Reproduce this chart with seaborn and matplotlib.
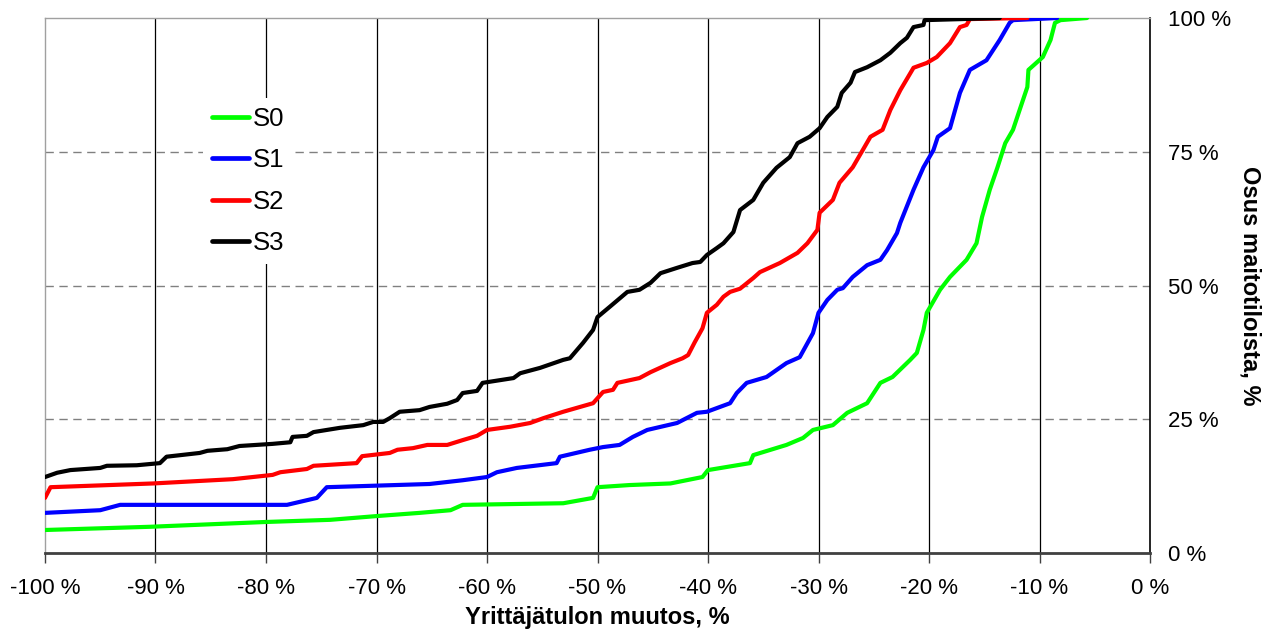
import matplotlib
matplotlib.use("Agg")
import matplotlib.pyplot as plt
import seaborn as sns
import pandas as pd
from matplotlib.ticker import FuncFormatter

# Cumulative share of dairy farms (%) versus change in entrepreneurial income (%)
s0_x = [-100, -90.5, -80, -74.2, -70, -66.1, -63.3, -62.2, -53.1, -50.4, -50.0, -47.1,
        -43.4, -40.5, -40.0, -36.2, -35.9, -32.9, -31.4, -30.5, -28.7, -27.4, -25.6,
        -24.4, -23.3, -21.7, -21.1, -20.5, -20.2, -19.0, -18.1, -16.6, -15.7, -15.2,
        -14.5, -13.8, -13.1, -12.4, -11.8, -11.1, -11.0, -9.7, -9.0, -8.6, -8.1, -5.7]
s0_y = [4.3, 4.9, 5.8, 6.2, 6.9, 7.5, 8.0, 9.0, 9.3, 10.3, 12.3, 12.7,
        13.0, 14.2, 15.5, 16.8, 18.3, 20.2, 21.5, 23.0, 23.9, 26.2, 28.0,
        31.8, 32.9, 36.1, 37.4, 41.7, 44.9, 49.2, 51.6, 54.8, 57.9, 62.8,
        67.9, 72.1, 76.6, 79.1, 82.8, 87.1, 90.3, 92.7, 95.9, 99.1, 99.6, 100]

s1_x = [-100, -95.0, -93.2, -78.1, -75.4, -74.5, -65.2, -62.2, -60.0, -59.1, -57.3,
        -53.7, -53.4, -50.7, -49.5, -48.0, -46.8, -45.5, -42.8, -41.0, -40.1, -38.0,
        -37.4, -36.5, -34.7, -32.9, -31.7, -30.5, -30.0, -29.2, -28.3, -27.8, -26.9,
        -25.6, -24.4, -23.8, -22.9, -22.6, -21.4, -20.5, -19.6, -19.2, -18.1, -17.2,
        -16.3, -14.8, -13.6, -12.7, -12.4, -8.4]
s1_y = [7.5, 8.0, 9.0, 9.0, 10.3, 12.3, 12.9, 13.6, 14.2, 15.1, 15.9,
        16.8, 18.0, 19.3, 19.8, 20.2, 21.7, 23.0, 24.3, 26.2, 26.4, 28.0,
        29.9, 31.8, 32.9, 35.5, 36.6, 41.1, 44.9, 47.3, 49.2, 49.5, 51.6,
        53.8, 54.8, 56.6, 59.8, 61.7, 67.9, 72.1, 75.3, 77.8, 79.4, 86.0,
        90.3, 92.1, 95.9, 99.1, 99.6, 100]

s2_x = [-100, -99.5, -90.2, -83.0, -79.4, -78.7, -76.3, -75.7, -71.8, -71.3, -68.8,
        -68.1, -66.7, -65.4, -63.6, -62.2, -60.9, -60.0, -57.9, -56.1, -54.9, -53.1,
        -50.4, -49.5, -48.6, -48.2, -46.2, -45.2, -43.4, -42.3, -41.8, -41.2, -40.5,
        -40.1, -39.2, -38.6, -38.0, -37.1, -35.9, -35.3, -33.5, -31.9, -31.0, -30.1,
        -29.9, -28.7, -28.1, -26.9, -26.0, -25.3, -24.2, -23.5, -22.6, -21.4, -20.2,
        -19.3, -18.1, -17.2, -16.6, -16.3, -11.1]
s2_y = [10.3, 12.3, 13.0, 13.8, 14.6, 15.1, 15.7, 16.3, 16.8, 18.1, 18.7,
        19.3, 19.6, 20.2, 20.2, 21.1, 21.9, 23.0, 23.6, 24.3, 25.2, 26.4,
        28.0, 30.1, 30.5, 31.8, 32.7, 33.8, 35.5, 36.4, 37.0, 39.4, 42.0,
        44.9, 46.4, 47.9, 48.8, 49.4, 51.4, 52.5, 54.2, 56.1, 57.9, 60.4,
        63.6, 66.0, 69.2, 72.1, 75.3, 77.8, 79.1, 82.8, 86.5, 90.7, 91.6,
        92.7, 95.3, 98.3, 98.7, 99.8, 100]

s3_x = [-100, -98.9, -97.7, -95.0, -94.4, -91.7, -89.6, -89.0, -86.0, -85.3, -83.5,
        -82.4, -79.4, -77.8, -77.6, -76.3, -75.7, -73.3, -71.2, -70.3, -69.4, -68.8,
        -67.9, -66.1, -65.2, -63.6, -62.7, -62.2, -60.9, -60.4, -57.6, -57.0, -55.2,
        -53.1, -52.5, -51.3, -50.4, -50.0, -48.9, -47.3, -46.2, -45.2, -44.3, -42.8,
        -41.4, -40.7, -40.1, -39.2, -38.6, -37.7, -37.1, -35.9, -35.0, -33.8, -32.6,
        -31.9, -30.8, -29.9, -29.2, -28.3, -27.9, -27.1, -26.7, -25.6, -24.4, -23.5,
        -22.6, -22.0, -21.4, -20.5, -20.4, -13.6]
s3_y = [14.2, 15.0, 15.5, 15.9, 16.3, 16.4, 16.8, 18.0, 18.7, 19.1, 19.4,
        20.0, 20.4, 20.7, 21.7, 21.9, 22.6, 23.4, 23.9, 24.5, 24.5, 25.2,
        26.4, 26.7, 27.3, 27.9, 28.6, 29.9, 30.3, 31.8, 32.7, 33.6, 34.6,
        36.1, 36.4, 39.3, 41.7, 44.1, 46.0, 48.8, 49.2, 50.5, 52.3, 53.3,
        54.2, 54.4, 55.7, 57.0, 57.9, 60.0, 64.1, 66.0, 69.2, 72.0, 74.0,
        76.6, 77.8, 79.4, 81.5, 83.4, 86.0, 87.9, 89.9, 90.8, 92.1, 93.5,
        95.3, 96.3, 98.3, 98.7, 99.6, 100]

series_names = ["S0", "S1", "S2", "S3"]
series_colors = ["#00FF00", "#0000FF", "#FF0000", "#000000"]
x_ticks = [-100, -90, -80, -70, -60, -50, -40, -30, -20, -10, 0]
y_ticks = [0, 25, 50, 75, 100]
x_label = "Yrittäjätulon muutos, %"
y_label = "Osus maitotiloista, %"

frames = []
for name, xs, ys in zip(series_names, [s0_x, s1_x, s2_x, s3_x], [s0_y, s1_y, s2_y, s3_y]):
    frames.append(pd.DataFrame({"muutos": xs, "osuus": ys, "sarja": name}))
df = pd.concat(frames, ignore_index=True)

sns.set_theme(style="white")
plt.rcParams["font.family"] = ["Liberation Sans", "DejaVu Sans"]
plt.rcParams["text.color"] = "black"
plt.rcParams["axes.labelcolor"] = "black"
plt.rcParams["xtick.color"] = "black"
plt.rcParams["ytick.color"] = "black"

fig = plt.figure(figsize=(12.78, 6.35), dpi=100)
ax = fig.add_axes([45 / 1278, 82 / 635, 1105 / 1278, 535 / 635])

# grid: solid verticals, dashed horizontals
for xv in x_ticks[1:-1]:
    ax.axvline(xv, color="#000000", lw=0.9, zorder=1)
for yv in y_ticks[1:-1]:
    ax.axhline(yv, color="#808080", lw=1.0, ls=(0, (6, 4)), zorder=1)

sns.lineplot(data=df, x="muutos", y="osuus", hue="sarja", hue_order=series_names,
             palette=series_colors, sort=False, estimator=None, units="sarja",
             lw=3.0, ax=ax, zorder=3, legend=False)

ax.set_xlim(-100, 0)
ax.set_ylim(0, 100)
ax.set_xticks(x_ticks)
ax.set_yticks(y_ticks)
ax.xaxis.set_major_formatter(FuncFormatter(lambda v, p: f"{int(round(v))} %"))
ax.yaxis.set_major_formatter(FuncFormatter(lambda v, p: f"{int(round(v))} %"))
ax.yaxis.tick_right()
ax.yaxis.set_label_position("right")
ax.tick_params(axis="x", direction="out", length=7, width=1, color="#404040",
               labelcolor="black", labelsize=16, pad=11, bottom=True)
ax.tick_params(axis="y", length=0, labelcolor="black", labelsize=16, pad=13,
               right=True, left=False)

ax.set_xlabel(x_label, fontsize=17, fontweight="bold", labelpad=5, color="black")
ax.set_ylabel(y_label, fontsize=17, fontweight="bold", rotation=270, labelpad=22,
              color="black")

for side, col, w in [("top", "#A0A0A0", 1.0), ("left", "#A0A0A0", 1.0),
                     ("bottom", "#404040", 2.0), ("right", "#000000", 1.2)]:
    ax.spines[side].set_visible(True)
    ax.spines[side].set_color(col)
    ax.spines[side].set_linewidth(w)

handles = [plt.Line2D([], [], color=c, lw=3.4) for c in series_colors]
leg = ax.legend(handles, series_names, loc="upper left", bbox_to_anchor=(0.131, 0.874),
                fontsize=18.5, frameon=True, fancybox=False, framealpha=1,
                facecolor="white", edgecolor="none", handlelength=1.45,
                handletextpad=0.15, labelspacing=0.67, borderpad=0.35)
for t in leg.get_texts():
    t.set_color("black")
leg.set_zorder(5)

fig.savefig("out.png", dpi=100)
